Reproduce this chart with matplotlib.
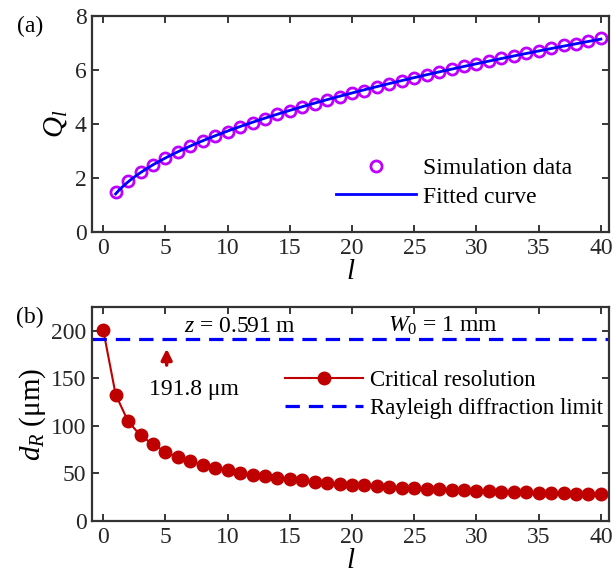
import numpy as np
import matplotlib
matplotlib.use("Agg")
import matplotlib.pyplot as plt

plt.rcParams.update({
    'font.family': 'Liberation Serif',
    'font.size': 17,
    'mathtext.fontset': 'custom',
    'mathtext.rm': 'Liberation Serif',
    'mathtext.it': 'Liberation Serif:italic',
    'axes.linewidth': 1.6,
})

# (a) mode order vs Q_l
l_a = np.arange(1, 41)
q_sim = [1.49, 1.89, 2.22, 2.49, 2.75, 2.95, 3.17, 3.37, 3.57, 3.72,
         3.90, 4.04, 4.19, 4.36, 4.50, 4.62, 4.75, 4.88, 5.00, 5.14,
         5.24, 5.37, 5.48, 5.59, 5.70, 5.82, 5.93, 6.04, 6.14, 6.24,
         6.34, 6.43, 6.53, 6.63, 6.72, 6.81, 6.91, 6.98, 7.08, 7.19]

# (b) critical resolution vs l
l_b = np.arange(0, 41)
d_crit = [201.0, 133.0, 104.7, 90.0, 80.7, 72.7, 66.8, 63.0, 58.8, 55.7,
          53.2, 50.8, 48.7, 47.0, 45.6, 44.2, 42.8, 41.4, 40.3, 39.3,
          38.3, 37.6, 36.9, 35.8, 35.1, 34.4, 33.7, 33.4, 32.7, 32.3,
          32.0, 31.3, 31.0, 30.6, 30.3, 29.9, 29.6, 29.2, 28.9, 28.5,
          28.2]
rayleigh = 191.8

purple = (0.74, 0.0, 1.0)
blue = (0.0, 0.0, 1.0)
dred = (0.75, 0.0, 0.0)

fig = plt.figure(figsize=(6.13, 5.86), dpi=100)
ax1 = fig.add_axes([92/613, 1 - 232/586, 517/613, 216/586])
ax2 = fig.add_axes([92/613, 1 - 521/586, 517/613, 214/586])

# fitted curve: Q = a + b*sqrt(l) least squares
A = np.vstack([np.ones(len(l_a)), np.sqrt(l_a)]).T
coef = np.linalg.lstsq(A, np.array(q_sim), rcond=None)[0]
l_fine = np.linspace(1, 40, 300)
q_fit = coef[0] + coef[1] * np.sqrt(l_fine)

ax1.plot(l_a, q_sim, 'o', mfc='none', mec=purple, ms=8, mew=2,
         label='Simulation data')
ax1.plot(l_fine, q_fit, '-', color=blue, lw=2, label='Fitted curve')
ax1.set_xlim(-0.9, 40.65)
ax1.set_ylim(0, 8)
ax1.set_xticks(range(0, 41, 5))
ax1.set_yticks(range(0, 9, 2))
ax1.set_xlabel('$l$', fontsize=21, labelpad=0)
ax1.set_ylabel('$Q_l$', fontsize=21, labelpad=4)
ax1.legend(loc='center left', frameon=False, fontsize=17,
           bbox_to_anchor=(0.472, 0.229), borderpad=0, borderaxespad=0,
           handlelength=3.4, handletextpad=0.3, labelspacing=0.3)
ax1.text(-0.12, 1.0, '(a)', transform=ax1.transAxes, fontsize=17,
         ha='center', va='top')

ax2.plot(l_b, d_crit, '-o', color=dred, mfc=dred, mec=dred, ms=9, lw=1.5,
         label='Critical resolution')
ax2.axhline(rayleigh, color=blue, lw=2.3, ls=(0, (4.5, 2.8)),
            label='Rayleigh diffraction limit')
ax2.set_xlim(-0.9, 40.65)
ax2.set_ylim(0, 225)
ax2.set_xticks(range(0, 41, 5))
ax2.set_yticks(range(0, 201, 50))
ax2.set_xlabel('$l$', fontsize=21, labelpad=0)
ax2.set_ylabel('$d_R$ (μm)', fontsize=21, labelpad=2)
ax2.legend(loc='center left', frameon=False, fontsize=16.5,
           bbox_to_anchor=(0.373, 0.593), borderpad=0, borderaxespad=0,
           handlelength=3.4, handletextpad=0.3, labelspacing=0.3)
ax2.annotate('', xy=(5.1, 184), xytext=(5.1, 161),
             arrowprops=dict(arrowstyle='-|>', color=dred, lw=2.5,
                             mutation_scale=16))
ax2.text(7.3, 138, '191.8 μm', fontsize=17, ha='center', va='center')
ax2.text(11.0, 205, '$z$ = 0.591 m', fontsize=17, ha='center', va='center')
ax2.text(27.3, 205, '$W_0$ = 1 mm', fontsize=17, ha='center', va='center')
ax2.text(-0.12, 1.0, '(b)', transform=ax2.transAxes, fontsize=17,
         ha='center', va='top')

for ax in (ax1, ax2):
    ax.tick_params(direction='in', top=True, right=True, length=5,
                   width=1.3, labelsize=17, pad=4, colors='#262626')
    for spine in ax.spines.values():
        spine.set_color('#333333')

fig.savefig('out.png', dpi=100)
